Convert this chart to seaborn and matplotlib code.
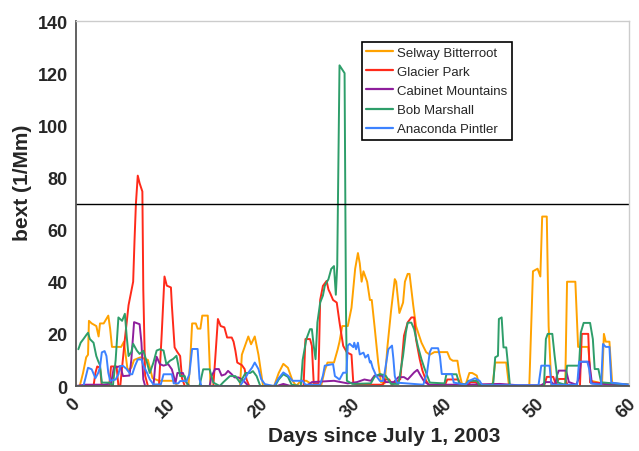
import pandas as pd
import matplotlib
matplotlib.use("Agg")
import matplotlib.pyplot as plt
import matplotlib.transforms as mtransforms
import seaborn as sns

# (day, bext) pares
selway = [(0, 0), (0.4, 0), (0.76, 5), (1.1, 11), (1.3, 12), (1.4, 25), (1.7, 24), (2.2, 23), (2.45, 19), (2.6, 24),
          (3.0, 24), (3.5, 27), (3.7, 22), (3.9, 15), (4.9, 15), (5.2, 17), (5.6, 6), (6.0, 7), (6.3, 10), (7.0, 11),
          (7.8, 10), (8.3, 3), (9.0, 2), (10.6, 2), (11.0, 0),
          (12.2, 0), (12.4, 10), (12.6, 24), (13.0, 24), (13.2, 22), (13.5, 22), (13.7, 27), (14.3, 27), (14.6, 0),
          (17.8, 0), (18.0, 12), (18.7, 19), (19.0, 16), (19.4, 19), (19.8, 12), (20.3, 0),
          (21.5, 0), (22.0, 5), (22.5, 8.5), (23.0, 7), (23.5, 2), (23.9, 0), (24.4, 2), (25.0, 2), (25.9, 0),
          (26.6, 0), (27.0, 6), (27.3, 9), (28.0, 9), (28.4, 14), (28.6, 17), (28.9, 23), (29.5, 23), (29.9, 30),
          (30.3, 45), (30.6, 51), (30.8, 47), (31.0, 40), (31.2, 44), (31.6, 40), (31.9, 33), (32.1, 33), (32.4, 23),
          (32.8, 9), (33.1, 1.5), (33.5, 1), (33.8, 15), (34.2, 29), (34.6, 41), (34.75, 40), (35.1, 28), (35.5, 32),
          (35.7, 40), (36.0, 43), (36.2, 43), (36.6, 31), (36.9, 23), (37.5, 16.6), (38.0, 13), (38.4, 12), (38.9, 13),
          (40.3, 13), (40.6, 10.4), (40.9, 9.7), (41.4, 9.7), (41.6, 5), (41.9, 0.7), (42.3, 0.7), (42.7, 5), (43.0, 5),
          (43.5, 4), (43.8, 0), (45.2, 0), (45.5, 9), (46.7, 9), (47.0, 0),
          (49.2, 0), (49.6, 44), (50.1, 45), (50.4, 42), (50.6, 65), (51.1, 65), (51.3, 23), (51.6, 0),
          (53.1, 0), (53.3, 40), (54.2, 40), (54.5, 15), (55.6, 15), (55.9, 2), (57.1, 1), (57.3, 20), (57.5, 17),
          (57.9, 17), (58.2, 1), (60, 0.5)]

glacier = [(0, 0), (1.9, 0), (2.1, 5), (2.3, 7.5), (2.6, 7), (2.8, 0), (3.6, 0), (3.8, 7.5), (4.4, 7.5), (4.6, 0),
           (4.8, 0), (5.3, 18), (5.7, 31), (6.2, 40), (6.35, 56), (6.5, 70), (6.7, 80.7), (6.9, 77.8), (7.2, 74.6),
           (7.3, 37), (7.5, 4), (7.8, 0),
           (9.0, 0), (9.3, 20), (9.6, 42), (9.85, 38.5), (10.3, 37.8), (10.4, 31), (10.7, 14.8), (11.0, 13),
           (11.3, 11.5), (11.5, 3), (11.8, 0),
           (14.9, 0), (15.1, 10), (15.4, 25.7), (15.7, 23), (16.1, 22.5), (16.4, 18.6), (16.9, 18.6), (17.1, 17),
           (17.3, 13.5), (17.5, 9), (18.0, 8), (18.3, 6.5), (18.5, 2.6), (18.8, 0),
           (24.7, 0), (24.9, 18), (25.4, 18), (25.6, 15.4), (25.8, 1), (26.3, 1), (26.5, 33), (26.8, 38.4),
           (27.2, 40.3), (27.4, 37), (27.6, 35.5), (27.9, 33), (28.3, 32), (28.6, 24.4), (29.0, 15.4), (29.4, 12.9),
           (29.9, 12), (30.1, 1), (30.5, 0.5),
           (33.3, 0.5), (33.6, 2.5), (34.0, 2.5), (34.3, 0.5), (35.2, 2.6), (35.6, 19.3), (36.0, 24.4), (36.4, 26.3),
           (36.7, 26.3), (36.9, 18), (37.3, 10.4), (37.6, 5.9), (38.0, 2), (38.4, 0),
           (40.0, 0), (40.3, 2.5), (41.5, 2.5), (41.8, 0), (42.5, 0), (42.8, 1.5), (43.4, 1.5), (43.7, 0),
           (50.8, 0), (51.1, 3.5), (51.8, 3.5), (52.1, 0.5), (52.4, 2.7), (53.1, 2.7), (53.4, 0),
           (54.7, 0), (54.9, 20), (55.6, 20), (55.8, 1.4), (60, 0.5)]

cabinet = [(0, 0), (1.0, 0.5), (3.0, 0.5), (3.8, 1), (4.1, 7), (4.8, 7.6), (5.1, 3.8), (5.8, 4), (6.0, 10),
           (6.3, 24.5), (6.9, 23.7), (7.1, 16.6), (7.3, 2.6), (7.5, 0),
           (8.4, 0), (8.6, 8), (8.75, 11.2), (9.1, 8.4), (9.5, 7.8), (10.0, 8.4), (10.4, 6.4), (10.6, 3.8),
           (10.8, 1.3), (11.0, 5), (11.6, 5), (12.0, 1.2), (12.3, 0),
           (14.5, 0), (14.7, 3.7), (15.1, 6.5), (15.5, 6.5), (15.8, 4), (16.2, 4.5), (16.5, 5.8), (16.9, 4.5),
           (17.2, 3.3), (17.6, 3.3), (18.0, 2.6), (18.4, 1.2), (18.7, 0),
           (21.8, 0), (22.5, 0.8), (23.3, 0), (25.0, 0), (25.6, 1.5), (28.0, 2), (29.5, 1), (30.5, 1.5), (31.3, 2.5),
           (32.0, 2), (32.4, 4), (33.2, 4), (33.6, 1.5), (34.5, 1.5), (35.0, 3.4), (35.6, 3.4), (36.0, 2.5),
           (36.7, 5.2), (37.05, 6.2), (37.4, 4), (37.8, 1.7), (38.3, 0.5),
           (42, 0.5), (46, 0.8), (48, 0.3), (50.5, 0.3), (51, 1.5), (51.6, 1.5), (52.0, 0.3), (52.2, 4), (52.4, 5.9),
           (53.2, 5.9), (53.5, 1.5), (54.3, 0.5), (54.6, 3), (54.8, 9.3), (55.7, 9.3), (56.0, 1), (60, 0.3)]

bob = [(0.25, 14.1), (0.5, 16.6), (0.8, 18), (1.16, 19.8), (1.3, 20.4), (1.5, 18), (1.9, 16.6), (2.2, 11.5),
       (2.4, 9.6), (2.6, 8), (2.8, 1.3), (3.6, 1.3), (4.0, 0), (4.3, 10), (4.6, 26.3), (5.0, 25), (5.3, 27.7),
       (5.5, 19), (5.7, 11.5), (6.0, 13), (6.2, 16.2), (6.6, 13.6), (6.9, 12.3), (7.3, 13.5), (7.7, 9), (8.0, 5),
       (8.4, 9), (8.75, 13.6), (9.1, 14.1), (9.5, 13.6), (9.8, 8.4), (10.2, 9.7), (10.55, 10.4), (10.9, 11.6),
       (11.1, 8), (11.3, 3.8), (11.8, 3.8), (12.0, 1.3), (12.2, 0),
       (13.4, 0), (13.8, 6.4), (14.5, 6.4), (14.9, 1.3), (15.6, 0), (16.0, 1.5), (16.7, 3.8), (17.3, 3.8),
       (17.8, 1.3), (18.4, 5), (18.9, 5), (19.2, 5.7), (19.6, 3.8), (20.0, 0),
       (21.6, 0), (22.0, 2.5), (22.5, 4.5), (23.0, 3.5), (23.4, 0.5), (24.4, 0), (24.6, 10), (25.0, 18),
       (25.4, 21.8), (25.6, 21.8), (25.8, 15.4), (26.0, 10.3), (26.2, 24.4), (26.5, 32), (26.8, 34.7), (27.0, 38.4),
       (27.4, 41), (27.7, 44.9), (28.0, 46), (28.2, 35), (28.35, 46), (28.6, 123), (29.15, 120), (29.3, 30),
       (29.4, 2), (30.0, 0.8),
       (32.0, 1), (32.4, 3.5), (33.0, 4.6), (33.6, 4), (34.2, 0.8), (35.0, 0.8), (35.5, 11.6), (35.8, 20.5),
       (36.0, 24.3), (36.4, 24.3), (36.7, 21.8), (37.1, 15.4), (37.5, 10.2), (37.8, 7), (38.4, 1.3), (40.0, 1),
       (40.2, 4.5), (41.3, 4.5), (41.6, 1), (42.3, 0.5), (42.6, 2), (43.5, 2), (43.8, 0.3),
       (45.1, 0.3), (45.3, 1.4), (45.5, 11), (45.8, 11.6), (45.9, 25.7), (46.2, 26.3), (46.4, 14.8), (46.7, 14.8),
       (46.9, 7.8), (47.1, 0),
       (50.8, 0), (51.0, 18), (51.2, 20), (51.7, 20), (51.95, 11.6), (52.3, 1.3), (53.1, 0.5), (53.3, 7.8),
       (54.6, 7.8), (54.8, 20.6), (55.1, 24.2), (55.8, 24.2), (56.1, 18), (56.3, 6.5), (56.7, 6.5), (57.0, 1.4),
       (60, 0.5)]

anaconda = [(0, 0), (0.8, 0), (1.0, 2.7), (1.3, 7), (1.7, 6.4), (2.1, 3), (2.4, 5), (2.6, 7.2), (2.8, 12.9),
            (3.1, 13.4), (3.3, 11.5), (3.5, 5.1), (3.7, 2), (4.3, 2.5), (4.6, 4.5), (4.8, 7.7), (5.1, 7.7),
            (5.5, 6.5), (5.9, 4.5), (6.1, 4.5), (6.4, 7.7), (6.7, 10.2), (7.1, 10.2), (7.3, 8), (7.7, 5.1),
            (8.0, 2.6), (8.4, 0.6), (9.2, 0.6), (9.5, 4.5), (10.4, 4.5), (10.6, 1), (11.1, 1), (11.3, 1.9),
            (12.0, 1.9), (12.3, 4.5), (12.6, 14.2), (13.2, 14.2), (13.4, 2.7), (13.6, 0),
            (17.8, 0), (18.3, 2.6), (18.7, 5.1), (19.1, 7), (19.4, 9), (19.8, 6.5), (20.1, 2.6), (20.5, 0.7),
            (21.5, 0), (22.0, 3), (22.5, 5.2), (23.0, 4), (23.5, 2), (24.6, 2), (24.9, 0.5), (26.5, 0.5), (26.8, 4),
            (27.0, 7.8), (27.9, 8.4), (28.1, 3.8), (28.6, 2.5), (29.0, 5.1), (29.35, 5.1), (29.5, 15.5),
            (29.7, 16.2), (30.1, 14.9), (30.2, 16.6), (30.4, 14.1), (30.6, 16.6), (30.8, 12.1), (31.2, 12.8),
            (31.4, 10.9), (31.7, 12), (31.9, 9), (32.0, 9.5), (32.2, 7), (32.6, 3.8), (33.0, 1.9), (33.3, 1.9),
            (33.5, 5.1), (33.9, 14.1), (34.3, 15.5), (34.45, 10.4), (34.6, 3.8), (34.8, 1.3), (37.7, 0.5),
            (38.1, 5), (38.4, 13), (38.6, 14.5), (39.3, 14.5), (39.5, 11.4), (39.7, 4.6), (40.8, 4.6), (41.0, 1.3),
            (42.3, 0.5), (42.7, 2), (43.3, 3), (43.8, 2), (44.1, 0.3), (50.2, 0.3), (50.5, 7.8), (51.4, 7.8),
            (51.6, 0.5), (54.4, 0.5), (54.6, 9.3), (55.5, 9.3), (55.7, 6.5), (55.9, 1), (57.0, 0.5), (57.2, 16.1),
            (57.5, 15), (57.9, 15), (58.1, 1.3), (60, 0.5)]

sites = ["Selway Bitterroot", "Glacier Park", "Cabinet Mountains", "Bob Marshall", "Anaconda Pintler"]
series = [selway, glacier, cabinet, bob, anaconda]
cores = ["#FFA200", "#FF2A1A", "#8E1E9C", "#2E9E6A", "#3C82FF"]
limite = 70

linhas = []
for nome, dados in zip(sites, series):
    for d, v in dados:
        linhas.append({"site": nome, "day": d, "bext": v})
tabela = pd.DataFrame(linhas)

sns.set_style("white")
plt.rcParams["font.family"] = ["Liberation Sans", "DejaVu Sans"]

fig = plt.figure(figsize=(6.39, 4.52), dpi=100)
ax = fig.add_axes([0.119, 0.1438, 0.865, 0.8075])

sns.lineplot(data=tabela, x="day", y="bext", hue="site", hue_order=sites, palette=cores,
             estimator=None, sort=False, units="site", lw=1.4, ax=ax)
ax.axhline(limite, color="black", lw=1)

ax.set_xlim(0, 60)
ax.set_ylim(0, 140)
ax.set_xticks(range(0, 61, 10))
ax.set_yticks(range(0, 141, 20))
ax.tick_params(axis="both", labelsize=13, length=4, width=1, direction="out", color="#555555", pad=2)
ax.tick_params(axis="x", labelrotation=45)
# desloca um pouco os rotulos de x pra esquerda (o 60 estava cortado)
desloc = mtransforms.ScaledTranslation(-1.5 / 72, 0, fig.dpi_scale_trans)
for t in ax.get_xticklabels():
    t.set_transform(t.get_transform() + desloc)
for t in ax.get_xticklabels() + ax.get_yticklabels():
    t.set_fontweight("bold")

for lado in ["left", "bottom"]:
    ax.spines[lado].set_color("#555555")
    ax.spines[lado].set_linewidth(1.3)
for lado in ["top", "right"]:
    ax.spines[lado].set_color("#cccccc")
    ax.spines[lado].set_linewidth(1)

ax.set_xlabel("Days since July 1, 2003", fontsize=15, fontweight="bold")
ax.set_ylabel("bext (1/Mm)", fontsize=15, fontweight="bold")
ax.xaxis.set_label_coords(0.557, -0.11)
ax.yaxis.set_label_coords(-0.08, 0.559)

h, l = ax.get_legend_handles_labels()
leg = ax.legend(h, l, loc="upper left", bbox_to_anchor=(0.517, 0.9425), fontsize=9.5, frameon=True,
                fancybox=False, edgecolor="black", framealpha=1, borderpad=0.35, labelspacing=0.52,
                handlelength=2.0, handletextpad=0.3, borderaxespad=0)
leg.get_frame().set_linewidth(1.2)
for linha in leg.get_lines():
    linha.set_linewidth(1.6)

fig.savefig("out.png", dpi=100)
